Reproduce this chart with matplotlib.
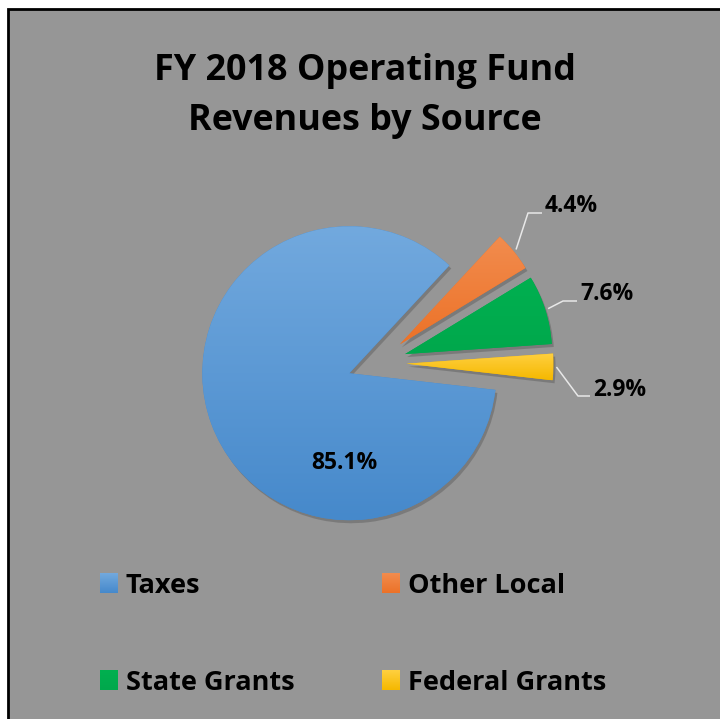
import numpy as np
import matplotlib
matplotlib.use("Agg")
import matplotlib.pyplot as plt
from matplotlib.patches import Rectangle, Wedge
from matplotlib.colors import LinearSegmentedColormap

plt.rcParams['font.family'] = ['Open Sans', 'DejaVu Sans']
plt.rcParams['font.weight'] = 'bold'

# data
categories = ['Taxes', 'Other Local', 'State Grants', 'Federal Grants']
shares = [85.1, 4.4, 7.6, 2.9]
pct_labels = ['85.1%', '4.4%', '7.6%', '2.9%']

# gradient colours (top, bottom) for each slice
top_colors = ['#72a9de', '#f28c4e', '#00b050', '#ffd040']
bottom_colors = ['#4689cb', '#ec7228', '#00a84c', '#f5b800']
bg_gray = '#969696'

W, H = 720, 719
fig = plt.figure(figsize=(W / 100, H / 100), dpi=100)
fig.patch.set_facecolor('white')
ax = fig.add_axes([0, 0, 1, 1])

# pixel-like coordinates, y going up
def py(y):
    return H - y

# chart area: gray panel with black border on top and left
ax.add_patch(Rectangle((8, -20), W + 20, py(9) + 20, facecolor=bg_gray,
                       edgecolor='black', linewidth=2.0, zorder=0))

center = (377, py(363))
radius = 147
explode = [29.5] * len(shares)

wedges, _ = ax.pie(shares, explode=explode, center=center, radius=radius,
                   startangle=-6.5, counterclock=False, frame=True,
                   wedgeprops=dict(linewidth=0))

for i, w in enumerate(wedges):
    # soft shadow
    sh = Wedge((w.center[0] + 2, w.center[1] - 3), w.r, w.theta1, w.theta2,
               facecolor='black', alpha=0.18, linewidth=0, zorder=1)
    ax.add_patch(sh)
    w.set_zorder(2)
    w.set_facecolor(bottom_colors[i])
    bb = w.get_path().get_extents()
    cmap = LinearSegmentedColormap.from_list('g%d' % i, [bottom_colors[i], top_colors[i]])
    grad = np.linspace(0, 1, 256).reshape(-1, 1)
    im = ax.imshow(grad, cmap=cmap, origin='lower', aspect='auto',
                   extent=(bb.x0, bb.x1, bb.y0, bb.y1), zorder=3,
                   interpolation='bilinear')
    im.set_clip_path(w)

# data labels
lbl_font = dict(fontsize=16.5, fontweight='bold', color='black')
# inside label for the big slice
ax.text(344, py(469), pct_labels[0], ha='center', va='baseline', zorder=5, **lbl_font)

# outside labels with elbow leader lines
elbows = [None, (528, 213), (563, 301), (578, 396)]
line_ends = [None, 542, 577, 590]
for i in range(1, len(shares)):
    w = wedges[i]
    tm = np.deg2rad((w.theta1 + w.theta2) / 2)
    sx = w.center[0] + (w.r + 3) * np.cos(tm)
    sy = w.center[1] + (w.r + 3) * np.sin(tm)
    ex, ey = elbows[i]
    ax.plot([sx, ex, line_ends[i]], [sy, py(ey), py(ey)], color='#e8e8e8',
            linewidth=1.1, zorder=4, solid_capstyle='butt')
    ax.text(line_ends[i] + 3, py(ey) + 0.5, pct_labels[i], ha='left', va='baseline',
            zorder=5, **lbl_font)

# title
ax.text(365, py(80), 'FY 2018 Operating Fund', ha='center', va='baseline',
        fontsize=25.8, fontweight='bold', color='black')
ax.text(365, py(130), 'Revenues by Source', ha='center', va='baseline',
        fontsize=25.8, fontweight='bold', color='black')

# legend, two columns
leg_x = [100, 382, 100, 382]
leg_y = [593, 593, 690, 690]
for i, name in enumerate(categories):
    x0, yb = leg_x[i], leg_y[i]
    sq = Rectangle((x0, py(yb)), 18, 20, linewidth=0, zorder=3)
    ax.add_patch(sq)
    cmap = LinearSegmentedColormap.from_list('l%d' % i, [bottom_colors[i], top_colors[i]])
    im = ax.imshow(np.linspace(0, 1, 64).reshape(-1, 1), cmap=cmap, origin='lower',
                   aspect='auto', extent=(x0, x0 + 18, py(yb), py(yb) + 20), zorder=3)
    im.set_clip_path(sq)
    ax.text(x0 + 26, py(yb), name, ha='left', va='baseline', fontsize=19.5,
            fontweight='bold', color='black', zorder=5)

ax.set_xlim(0, W)
ax.set_ylim(0, H)
ax.set_aspect('auto')
ax.axis('off')

fig.savefig('out.png', dpi=100, facecolor='white')
